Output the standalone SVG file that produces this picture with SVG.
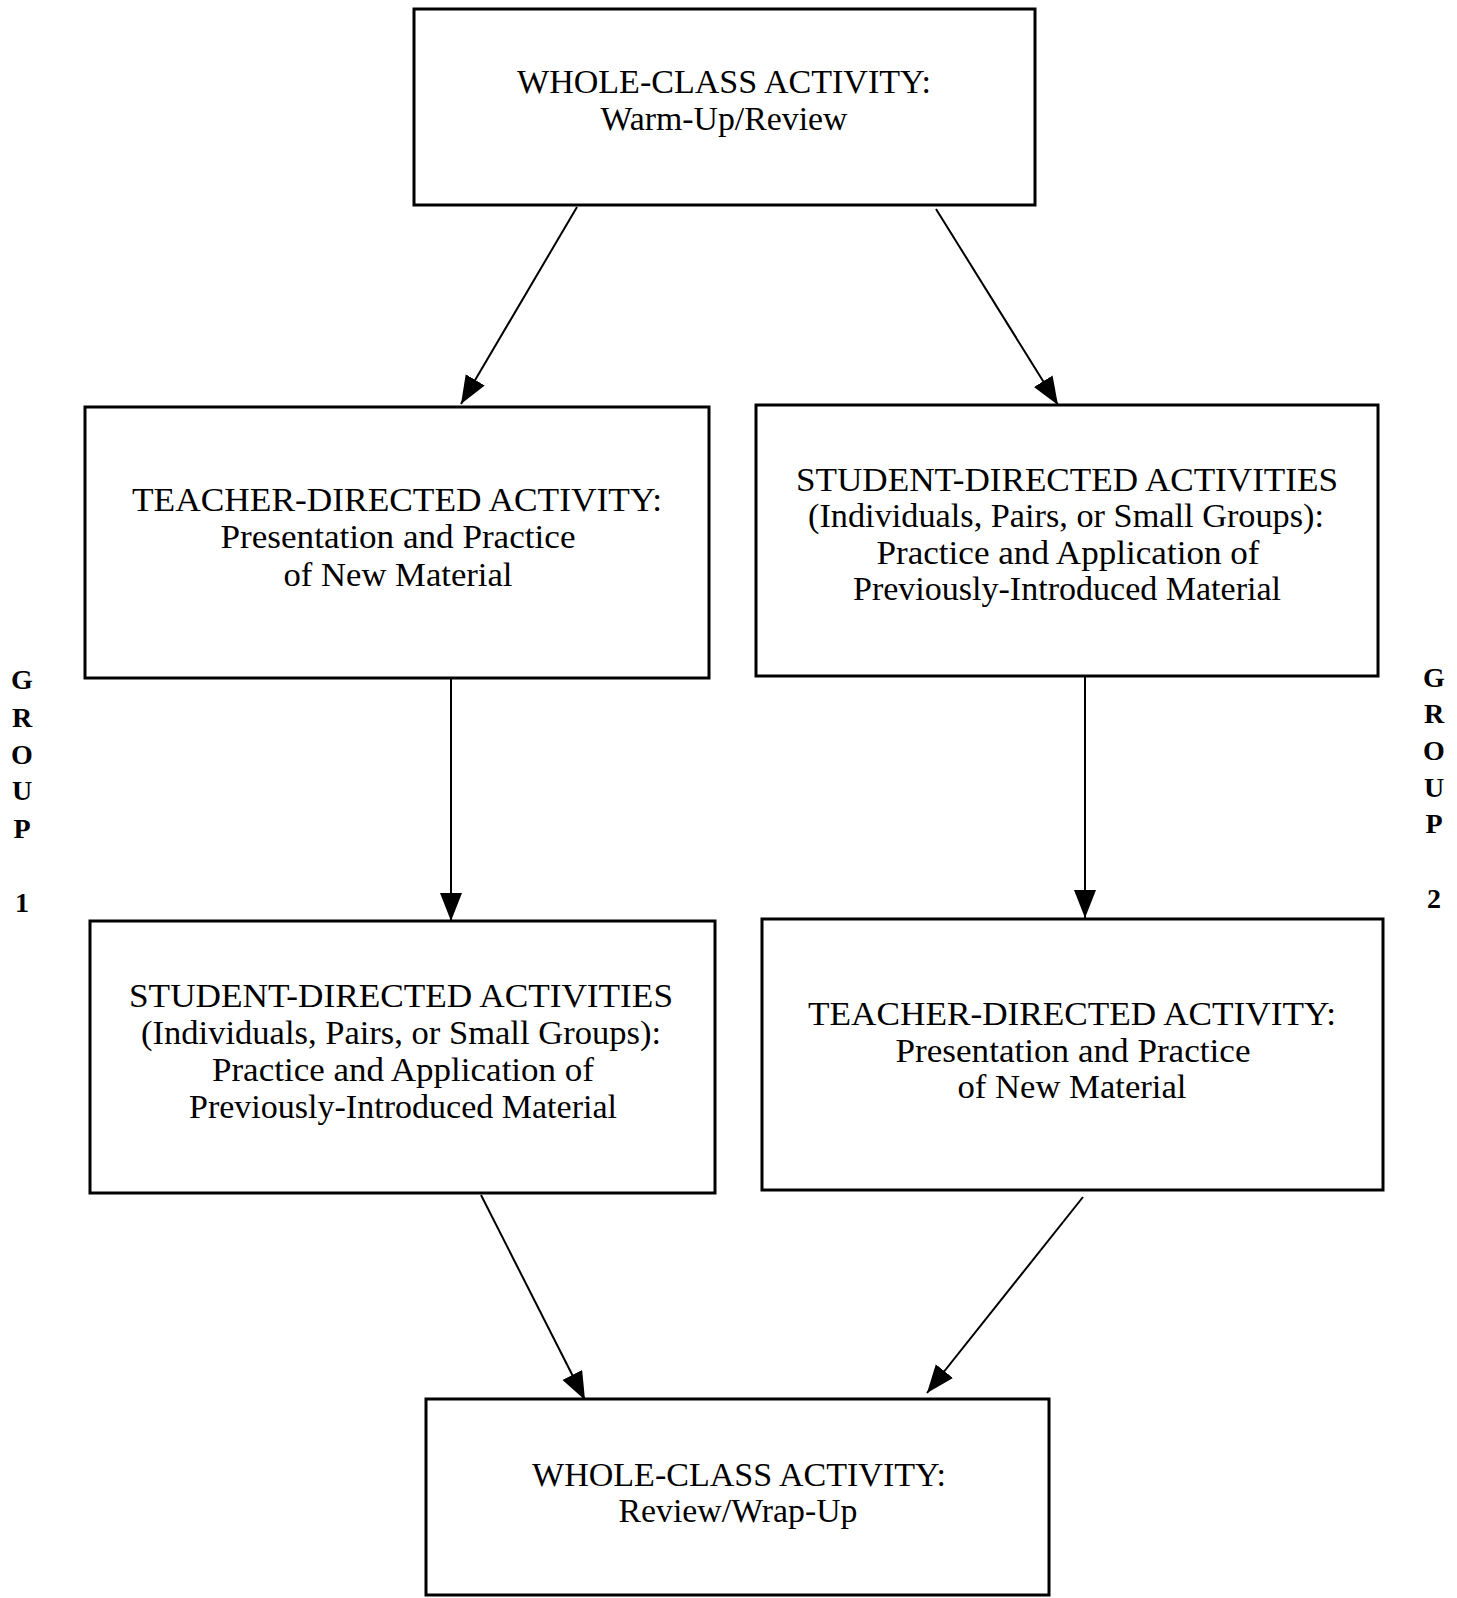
<svg xmlns="http://www.w3.org/2000/svg" width="1457" height="1598" viewBox="0 0 1457 1598">
<style>
.box{fill:#fff;stroke:#000;stroke-width:3}
.t{font-family:"Liberation Serif","Times New Roman",serif;font-size:34px;fill:#000;text-anchor:middle}
.g{font-family:"Liberation Serif","Times New Roman",serif;font-size:28px;font-weight:bold;fill:#000;text-anchor:middle}
.c{stroke:#000;stroke-width:2;fill:none}
</style>
<defs>
<marker id="ah" markerUnits="userSpaceOnUse" markerWidth="30" markerHeight="24" refX="28" refY="11" orient="auto">
<path d="M0,0 L28,11 L0,22 Z" fill="#000"/>
</marker>
</defs>
<rect width="1457" height="1598" fill="#fff"/>
<g id="connectors">
<line class="c" x1="577" y1="207" x2="461" y2="404" marker-end="url(#ah)"/>
<line class="c" x1="936" y1="209" x2="1058" y2="405" marker-end="url(#ah)"/>
<line class="c" x1="451" y1="678" x2="451" y2="921" marker-end="url(#ah)"/>
<line class="c" x1="1085" y1="676" x2="1085" y2="918" marker-end="url(#ah)"/>
<line class="c" x1="481" y1="1195" x2="585" y2="1400" marker-end="url(#ah)"/>
<line class="c" x1="1083" y1="1197" x2="927" y2="1393" marker-end="url(#ah)"/>
</g>
<g id="top">
<rect class="box" x="414" y="9" width="621" height="196"/>
<text class="t" x="724" y="93" textLength="414" lengthAdjust="spacingAndGlyphs">WHOLE-CLASS ACTIVITY:</text>
<text class="t" x="724" y="130" textLength="247" lengthAdjust="spacingAndGlyphs">Warm-Up/Review</text>
</g>
<g id="teacher1">
<rect class="box" x="85" y="407" width="624" height="271"/>
<text class="t" x="397" y="511" textLength="530" lengthAdjust="spacingAndGlyphs">TEACHER-DIRECTED ACTIVITY:</text>
<text class="t" x="398" y="548" textLength="355" lengthAdjust="spacingAndGlyphs">Presentation and Practice</text>
<text class="t" x="398" y="586" textLength="229" lengthAdjust="spacingAndGlyphs">of New Material</text>
</g>
<g id="student2">
<rect class="box" x="756" y="405" width="622" height="271"/>
<text class="t" x="1067" y="491" textLength="542" lengthAdjust="spacingAndGlyphs">STUDENT-DIRECTED ACTIVITIES</text>
<text class="t" x="1066" y="527" textLength="516" lengthAdjust="spacingAndGlyphs">(Individuals, Pairs, or Small Groups):</text>
<text class="t" x="1068" y="564" textLength="383" lengthAdjust="spacingAndGlyphs">Practice and Application of</text>
<text class="t" x="1067" y="600" textLength="428" lengthAdjust="spacingAndGlyphs">Previously-Introduced Material</text>
</g>
<g id="student1">
<rect class="box" x="90" y="921" width="625" height="272"/>
<text class="t" x="401" y="1007" textLength="544" lengthAdjust="spacingAndGlyphs">STUDENT-DIRECTED ACTIVITIES</text>
<text class="t" x="401" y="1044" textLength="520" lengthAdjust="spacingAndGlyphs">(Individuals, Pairs, or Small Groups):</text>
<text class="t" x="403" y="1081" textLength="382" lengthAdjust="spacingAndGlyphs">Practice and Application of</text>
<text class="t" x="403" y="1118" textLength="428" lengthAdjust="spacingAndGlyphs">Previously-Introduced Material</text>
</g>
<g id="teacher2">
<rect class="box" x="762" y="919" width="621" height="271"/>
<text class="t" x="1072" y="1025" textLength="528" lengthAdjust="spacingAndGlyphs">TEACHER-DIRECTED ACTIVITY:</text>
<text class="t" x="1073" y="1062" textLength="355" lengthAdjust="spacingAndGlyphs">Presentation and Practice</text>
<text class="t" x="1072" y="1098" textLength="229" lengthAdjust="spacingAndGlyphs">of New Material</text>
</g>
<g id="bottom">
<rect class="box" x="426" y="1399" width="623" height="196"/>
<text class="t" x="739" y="1486" textLength="414" lengthAdjust="spacingAndGlyphs">WHOLE-CLASS ACTIVITY:</text>
<text class="t" x="738" y="1522" textLength="239" lengthAdjust="spacingAndGlyphs">Review/Wrap-Up</text>
</g>
<g id="group1">
<text class="g" x="22" y="689">G</text>
<text class="g" x="22" y="727">R</text>
<text class="g" x="22" y="764">O</text>
<text class="g" x="22" y="800">U</text>
<text class="g" x="22" y="838">P</text>
<text class="g" x="22" y="912">1</text>
</g>
<g id="group2">
<text class="g" x="1434" y="687">G</text>
<text class="g" x="1434" y="723">R</text>
<text class="g" x="1434" y="760">O</text>
<text class="g" x="1434" y="797">U</text>
<text class="g" x="1434" y="833">P</text>
<text class="g" x="1434" y="908">2</text>
</g>
</svg>
